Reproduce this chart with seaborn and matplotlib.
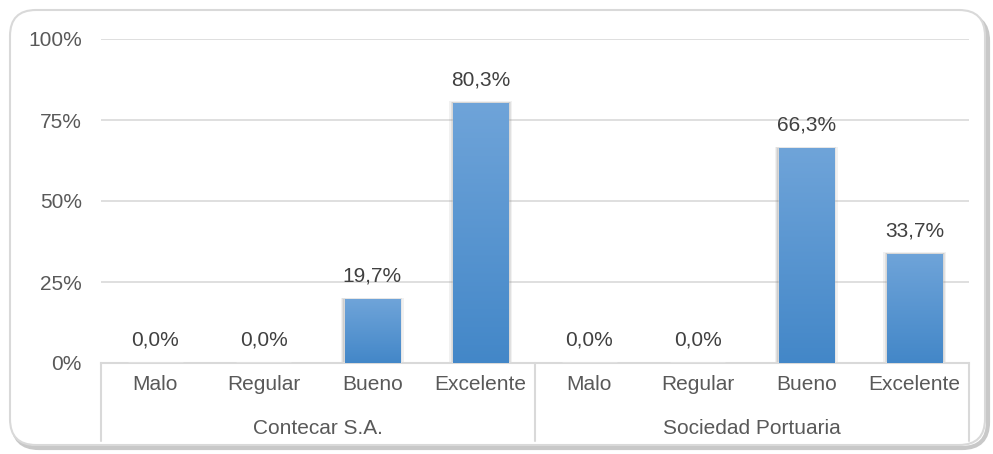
import numpy as np
import pandas as pd
import matplotlib
matplotlib.use("Agg")
import matplotlib.pyplot as plt
import seaborn as sns
from matplotlib.patches import FancyBboxPatch
from matplotlib.transforms import IdentityTransform, blended_transform_factory
from matplotlib.colors import LinearSegmentedColormap

# ---- data ----
groups = ["Contecar S.A.", "Sociedad Portuaria"]
ratings = ["Malo", "Regular", "Bueno", "Excelente"]
contecar = [0.0, 0.0, 19.7, 80.3]
portuaria = [0.0, 0.0, 66.3, 33.7]
yticks = [0, 25, 50, 75, 100]

rows = []
for g, vals in zip(groups, [contecar, portuaria]):
    for r, v in zip(ratings, vals):
        rows.append({"key": f"{g}|{r}", "group": g, "rating": r, "value": v})
df = pd.DataFrame(rows)

sns.set_theme(style="white")
plt.rcParams["font.family"] = ["Liberation Sans", "DejaVu Sans"]

W, H, DPI = 993, 454, 100
fig = plt.figure(figsize=(W / DPI, H / DPI), dpi=DPI)
fig.patch.set_facecolor("white")

# rounded border with shadow
shadow = FancyBboxPatch((13, 6), 975, 433, boxstyle="round,pad=0,rounding_size=26",
                        transform=IdentityTransform(), facecolor="none",
                        edgecolor="#c8c8c8", lw=3, zorder=-2)
border = FancyBboxPatch((10, 9), 975, 435, boxstyle="round,pad=0,rounding_size=26",
                        transform=IdentityTransform(), facecolor="white",
                        edgecolor="#d9d9d9", lw=1.5, zorder=-1)
fig.patches.extend([shadow, border])

left, right = 101 / W, 969 / W
bottom, top = 1 - 363 / H, 1 - 39 / H
ax = fig.add_axes([left, bottom, right - left, top - bottom])
ax.set_facecolor("none")
ax.set_zorder(1)

sns.barplot(data=df, x="key", y="value", color="#5b9bd5", width=0.51,
            ax=ax, saturation=1, zorder=3)

ax.set_ylim(0, 100)
ax.set_xlim(-0.5, len(df) - 0.5)
ax.set_yticks(yticks)
ax.set_yticklabels([f"{t}%" for t in yticks], color="#595959", fontsize=15)
ax.tick_params(axis="y", length=0, pad=13.7)
ax.set_xticks(range(len(df)))
ax.set_xticklabels(df["rating"], color="#595959", fontsize=15)
ax.tick_params(axis="x", length=0, pad=9)
ax.set_xlabel("")
ax.set_ylabel("")
ax.grid(axis="y", color="#d9d9d9", lw=1.2, zorder=0)
ax.set_axisbelow(True)
for s in ["top", "right", "left"]:
    ax.spines[s].set_visible(False)
ax.spines["bottom"].set_color("#d9d9d9")
ax.spines["bottom"].set_linewidth(1.5)

# gradient fill + shadow for bars
cmap = LinearSegmentedColormap.from_list("g", ["#4387c8", "#6fa4d9"])
grad = np.linspace(0, 1, 256).reshape(-1, 1)
for p in list(ax.patches):
    x0, y0 = p.get_x(), p.get_y()
    w, h = p.get_width(), p.get_height()
    if h <= 0:
        continue
    for k, a in [(0.035, 0.10), (0.022, 0.14), (0.011, 0.18)]:
        sh = plt.Rectangle((x0 - k, y0), w + 2 * k, h + k * 12, facecolor="#7f7f7f",
                           edgecolor="none", alpha=a, zorder=2)
        ax.add_patch(sh)
    im = ax.imshow(grad, extent=(x0, x0 + w, y0, y0 + h), origin="lower",
                   cmap=cmap, aspect="auto", zorder=4)
    im.set_clip_path(p)
ax.set_xlim(-0.5, len(df) - 0.5)
ax.set_ylim(0, 100)

# data labels
for i, v in enumerate(df["value"]):
    ax.annotate(f"{v:.1f}%".replace(".", ","), xy=(i, v), xytext=(0, 16.5),
                textcoords="offset points", ha="center", va="center",
                fontsize=15, color="#404040", zorder=5)

# group labels and separators
tr = blended_transform_factory(ax.transData, ax.transAxes)
ah = 324.0
for gi, g in enumerate(groups):
    center = gi * len(ratings) + (len(ratings) - 1) / 2
    ax.text(center, -65 / ah, g, transform=tr, ha="center", va="center",
            fontsize=15, color="#595959")
for xb in [-0.5, len(ratings) - 0.5, len(df) - 0.5]:
    ax.plot([xb, xb], [0, -78 / ah], transform=tr, color="#d9d9d9", lw=1.5,
            clip_on=False, zorder=1)

fig.savefig("out.png", dpi=DPI, facecolor="white")
